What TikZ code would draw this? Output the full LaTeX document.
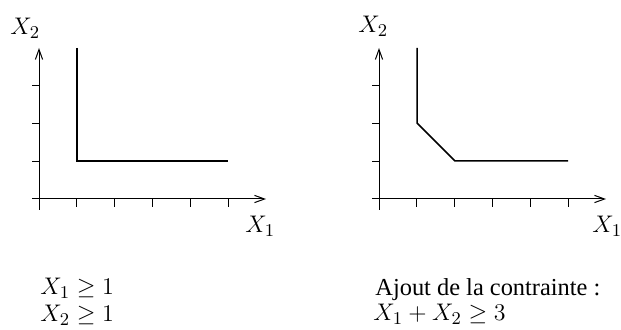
\documentclass[tikz,border=0pt]{standalone}
\usepackage{fontspec}
\setmainfont{Liberation Serif}
\usetikzlibrary{arrows.meta}
\begin{document}
\begin{tikzpicture}[x=0.5pt,y=-0.5pt,
 axis/.style={line width=0.5pt,-{Straight Barb[length=5pt,width=3.6pt]}},
 tickmark/.style={line width=0.5pt},
 region/.style={line width=0.75pt},
 lbl/.style={inner sep=0pt,anchor=base west,font=\fontsize{12.2}{14}\selectfont}]
\useasboundingbox (0,0) rectangle (621,330);
% left plot
\coordinate (lxs) at (32,199);
\coordinate (lxe) at (266,199);
\coordinate (lys) at (39,210);
\coordinate (lye) at (39,48);
\draw[axis] (lxs) -- (lxe);
\draw[axis] (lys) -- (lye);
\foreach \i in {1,...,5} \draw[tickmark] (39+37.8*\i,199) -- (39+37.8*\i,207);
\foreach \j in {1,2,3} \draw[tickmark] (32,199-37.8*\j) -- (39,199-37.8*\j);
\coordinate (la) at (77,48);
\coordinate (lb) at (77,161);
\coordinate (lc) at (228,161);
\draw[region] (la) -- (lb) -- (lc);
\node[lbl] (lX2) at (10,35) {$X_2$};
\node[lbl] (lX1) at (245,233) {$X_1$};
% right plot
\coordinate (rxs) at (372,199);
\coordinate (rxe) at (606,199);
\coordinate (rys) at (379,210);
\coordinate (rye) at (379,48);
\draw[axis] (rxs) -- (rxe);
\draw[axis] (rys) -- (rye);
\foreach \i in {1,...,5} \draw[tickmark] (379+37.8*\i,199) -- (379+37.8*\i,207);
\foreach \j in {1,2,3} \draw[tickmark] (372,199-37.8*\j) -- (379,199-37.8*\j);
\coordinate (ra) at (417,48);
\coordinate (rb) at (417,123);
\coordinate (rc) at (455,161);
\coordinate (rd) at (568,161);
\draw[region] (ra) -- (rb) -- (rc) -- (rd);
\node[lbl] (rX2) at (358,33) {$X_2$};
\node[lbl] (rX1) at (592,233) {$X_1$};
% texts
\node[lbl] (t1) at (40,295) {$X_1 \geq 1$};
\node[lbl] (t2) at (40,322) {$X_2 \geq 1$};
\node[lbl] (t3) at (375,296) {Ajout de la contrainte :};
\node[lbl] (t4) at (373,321) {$X_1 + X_2 \geq 3$};
\end{tikzpicture}
\end{document}
